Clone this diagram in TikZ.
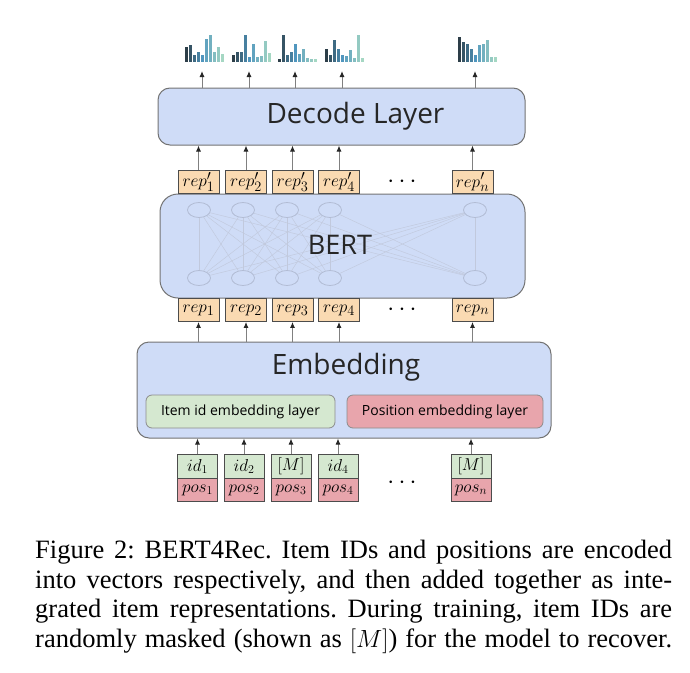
\documentclass[tikz,border=0pt]{standalone}
\usepackage{fontspec}
\setmainfont{Liberation Serif}
\newfontfamily\uifont{Open Sans}
\usetikzlibrary{arrows.meta,shapes.geometric}
\definecolor{layerblue}{RGB}{207,220,247}
\definecolor{repfill}{RGB}{250,218,178}
\definecolor{idgreen}{RGB}{213,232,208}
\definecolor{pospink}{RGB}{232,165,172}
\definecolor{unitgray}{RGB}{178,188,212}
\definecolor{bardark}{RGB}{45,62,72}
\definecolor{barmid}{RGB}{80,150,190}
\definecolor{barlight}{RGB}{165,215,195}
\begin{document}
\begin{tikzpicture}[x=1pt,y=-1pt]
  \tikzstyle{layer}=[draw=black!55,line width=1pt,fill=layerblue,rounded corners=12pt,inner sep=0pt]
  \tikzstyle{sublayer}=[draw=black!45,line width=0.8pt,rounded corners=6pt,minimum height=33pt,inner sep=0pt,font=\uifont\fontsize{14}{14}\selectfont]
  \tikzstyle{rep}=[draw=black!70,line width=0.8pt,fill=repfill,minimum width=41pt,minimum height=23pt,inner sep=0pt,font=\fontsize{19}{19}\selectfont]
  \tikzstyle{inbox}=[draw=black!70,line width=0.8pt,minimum width=40pt,minimum height=23.5pt,inner sep=0pt,font=\fontsize{18}{18}\selectfont]
  \tikzstyle{unit}=[ellipse,draw=unitgray,line width=0.8pt,minimum width=23pt,minimum height=15pt,inner sep=0pt]
  \tikzstyle{wire}=[draw=unitgray!80,line width=0.45pt]
  \tikzstyle{arr}=[draw=black!50,line width=1pt,-{Latex[length=6pt,width=5pt,color=black!85]}]
  \useasboundingbox (0,0) rectangle (690,672);

  % layers
  \node[layer,minimum width=367pt,minimum height=57pt,
        label={[xshift=14pt,font=\uifont\fontsize{28}{28}\selectfont,text=black!85]center:Decode Layer}]
        (decode) at (341.5,116.5) {};
  \node[layer,rounded corners=18pt,minimum width=365pt,minimum height=104pt] (bert) at (342.5,246) {};
  \node[layer,minimum width=414pt,minimum height=96pt] (embed) at (344,390) {};
  \node[font=\uifont\fontsize{28}{28}\selectfont,text=black!85] (embedtxt) at (346,367) {Embedding};
  \node[sublayer,fill=idgreen,minimum width=189pt] (idlayer) at (240.5,411.5) {Item id embedding layer};
  \node[sublayer,fill=pospink,minimum width=196pt] (poslayer) at (445,411.5) {Position embedding layer};

  % units inside BERT
  \foreach \x [count=\i] in {199,243,287,330,475}
  {
    \node[unit] (top-\i) at (\x,210) {};
    \node[unit] (bot-\i) at (\x,278) {};
  }
  \foreach \i in {1,...,5}
    \foreach \j in {1,...,5}
      { \draw[wire] (bot-\i) -- (top-\j); }
  \node[font=\uifont\fontsize{27}{27}\selectfont,text=black!85] (berttxt) at (340,245) {BERT};

  % representations
  \foreach \x/\n [count=\i] in {198.5/1,246/2,292.5/3,339/4,472.5/n}
  {
    \node[rep] (repp-\i) at (\x,182) {$rep'_{\n}$};
    \node[rep] (rep-\i) at (\x,310) {$rep_{\n}$};
  }

  % inputs
  \foreach \x/\id/\n [count=\i] in {197.5/id_1/1,244/id_2/2,291/{[M]}/3,338/id_4/4,471/{[M]}/n}
  {
    \node[inbox,fill=idgreen] (id-\i) at (\x,466.5) {$\id$};
    \node[inbox,fill=pospink] (pos-\i) at (\x,490) {$pos_{\n}$};
  }
  \foreach \y/\name in {182/dotsA,310/dotsB,483/dotsC}
    \node[font=\fontsize{28}{28}\selectfont] (\name) at (402,\y) {$\cdots$};

  % outputs
  \foreach \x/\hs [count=\i] in {202/{15,17,7,10,7,23,27,10,15,8},
                                 249/{7,10,10,27,5,18,5,6,21,9},
                                 295/{3,27,7,10,18,8,13,4,3,3},
                                 342/{13,7,22,13,7,6,12,4,27,4},
                                 475/{25,20,18,13,7,17,18,22,5,5}}
  {
    \coordinate (out-\i) at (\x,71);
    \foreach \h [count=\b] in \hs
    {
      \ifnum\b<6 \pgfmathtruncatemacro\p{(\b-1)*25}\def\barc{barmid!\p!bardark}
      \else \pgfmathtruncatemacro\p{(\b-5)*20}\def\barc{barlight!\p!barmid}\fi
      \fill[\barc] ({\x-17+4*\b-4},62) rectangle ++(3,-\h);
    }
  }

  % arrows
  \foreach \i in {1,...,5}
  {
    \draw[arr] (id-\i) -- (id-\i |- embed.south);
    \draw[arr] (embed.north -| rep-\i) -- (rep-\i);
    \draw[arr] (repp-\i) -- (repp-\i |- decode.south);
    \draw[arr] (decode.north -| out-\i) -- (out-\i);
  }

  % caption
  \node[anchor=north west,inner sep=0pt,text width=637pt,align=justify,
        font=\fontsize{26.5}{29.5}\selectfont] (caption) at (35,540)
    {\frenchspacing\parfillskip=0pt
     Figure 2: BERT4Rec. Item IDs and positions are encoded\linebreak
     into vectors respectively, and then added together as inte-\linebreak
     grated item representations. During training, item IDs are\linebreak
     randomly masked (shown as $[M]$) for the model to recover.\par};
\end{tikzpicture}
\end{document}
